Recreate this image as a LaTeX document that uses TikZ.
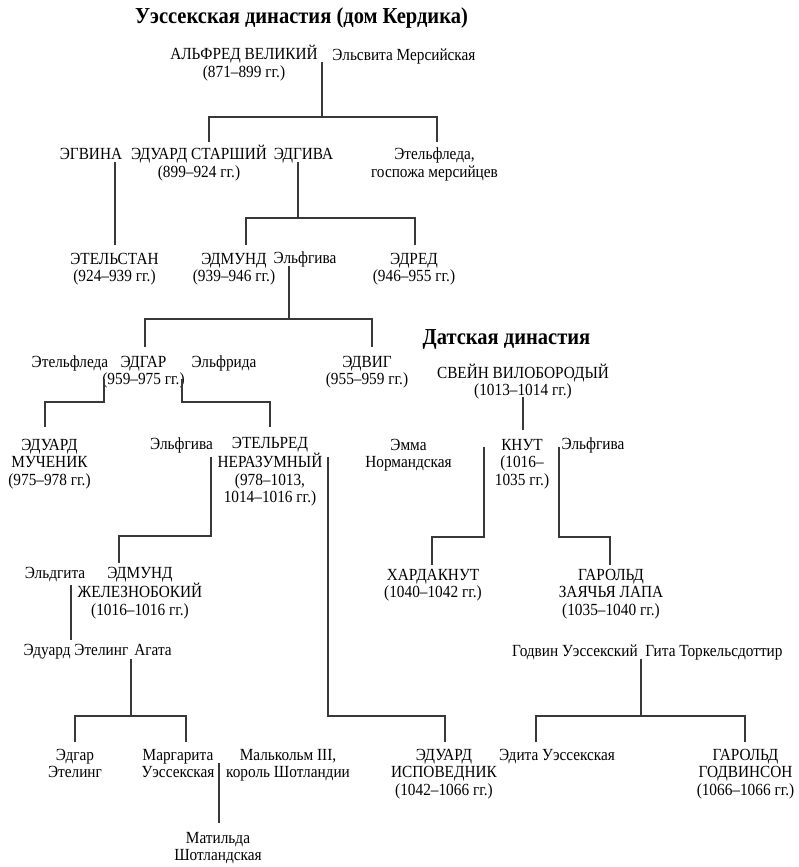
\documentclass[tikz,border=0pt]{standalone}
\usepackage{fontspec}
\setmainfont[FakeStretch=0.9]{Liberation Serif}
\newcommand\fsnorm{\fontsize{17}{17.5}\selectfont}
\newcommand\fstitle{\fontsize{22.8}{24}\selectfont\bfseries}
\tikzset{
  p/.style={align=center, inner sep=0pt, anchor=base, font=\fsnorm},
  ttl/.style={inner sep=0pt, anchor=base, font=\fstitle},
  ln/.style={draw=black!78, line width=1.1pt},
}
\begin{document}
\begin{tikzpicture}[x=1pt,y=-1pt]
\useasboundingbox[fill=white] (0,0) rectangle (799,867);
% titles
\node[ttl] (t1) at (301.5,23.5) {Уэссекская династия (дом Кердика)};
\node[ttl] (t2) at (506.5,344) {Датская династия};
% row 1 (base anchor = last line)
\node[p] (alfred) at (244,77.5) {АЛЬФРЕД ВЕЛИКИЙ\\(871–899 гг.)};
\node[p] (elsvita) at (404,60) {Эльсвита Мерсийская};
% row 2
\node[p] (egvina) at (91,159.5) {ЭГВИНА};
\node[p] (edwardE) at (199,177) {ЭДУАРД СТАРШИЙ\\(899–924 гг.)};
\node[p] (edgiva) at (303.5,159.5) {ЭДГИВА};
\node[p] (ethelfleda) at (434.5,177) {Этельфледа,\\госпожа мерсийцев};
% row 3
\node[p] (ethelstan) at (114.5,281.5) {ЭТЕЛЬСТАН\\(924–939 гг.)};
\node[p] (edmund) at (234,281.5) {ЭДМУНД\\(939–946 гг.)};
\node[p] (elfgivaA) at (305,263) {Эльфгива};
\node[p] (edred) at (414,281.5) {ЭДРЕД\\(946–955 гг.)};
% row 4
\node[p] (ethelfledaB) at (70,367) {Этельфледа};
\node[p] (edgar) at (143.5,384.5) {ЭДГАР\\(959–975 гг.)};
\node[p] (elfrida) at (224,367) {Эльфрида};
\node[p] (edwig) at (367,384.5) {ЭДВИГ\\(955–959 гг.)};
\node[p] (svein) at (523,395.5) {СВЕЙН ВИЛОБОРОДЫЙ\\(1013–1014 гг.)};
% row 5
\node[p] (edwardM) at (49.5,485) {ЭДУАРД\\МУЧЕНИК\\(975–978 гг.)};
\node[p] (elfgivaB) at (181.5,449) {Эльфгива};
\node[p] (ethelred) at (270,502.5) {ЭТЕЛЬРЕД\\НЕРАЗУМНЫЙ\\(978–1013,\\1014–1016 гг.)};
\node[p] (emma) at (408.5,467.5) {Эмма\\Нормандская};
\node[p] (knut) at (522,485) {КНУТ\\(1016–\\1035 гг.)};
\node[p] (elfgivaC) at (593,449) {Эльфгива};
% row 6
\node[p] (eldgita) at (55,578) {Эльдгита};
\node[p] (edmundI) at (140,615) {ЭДМУНД\\ЖЕЛЕЗНОБОКИЙ\\(1016–1016 гг.)};
\node[p] (hardaknut) at (433,597.5) {ХАРДАКНУТ\\(1040–1042 гг.)};
\node[p] (haroldH) at (611,615) {ГАРОЛЬД\\ЗАЯЧЬЯ ЛАПА\\(1035–1040 гг.)};
% row 7
\node[p] (edwardA) at (76,655) {Эдуард Этелинг};
\node[p] (agata) at (153,655) {Агата};
\node[p] (godwin) at (575,656) {Годвин Уэссекский};
\node[p] (gita) at (714,656) {Гита Торкельсдоттир};
% row 8
\node[p] (edgarA) at (75,777.5) {Эдгар\\Этелинг};
\node[p] (margaret) at (178,777.5) {Маргарита\\Уэссекская};
\node[p] (malcolm) at (288,777.5) {Малькольм III,\\король Шотландии};
\node[p] (edwardC) at (444,795) {ЭДУАРД\\ИСПОВЕДНИК\\(1042–1066 гг.)};
\node[p] (edith) at (557,760) {Эдита Уэссекская};
\node[p] (haroldG) at (745.5,795) {ГАРОЛЬД\\ГОДВИНСОН\\(1066–1066 гг.)};
\node[p] (matilda) at (218,860.5) {Матильда\\Шотландская};

% connectors
% Alfred + Elsvita
\coordinate (a0) at (322,62); \coordinate (a1) at (322,117);
\coordinate (a2) at (209,142); \coordinate (a3) at (437,142);
\draw[ln] (a0) -- (a1);
\draw[ln] (a2) |- (a1) -| (a3);
% Egvina -> Ethelstan
\coordinate (e0) at (115,162); \coordinate (e1) at (115,245);
\draw[ln] (e0) -- (e1);
% Edgiva
\coordinate (g0) at (298,162); \coordinate (g1) at (298,218);
\coordinate (g2) at (246,245); \coordinate (g3) at (415,245);
\draw[ln] (g0) -- (g1);
\draw[ln] (g2) |- (g1) -| (g3);
% Edmund + Elfgiva
\coordinate (h0) at (289,266); \coordinate (h1) at (289,319);
\coordinate (h2) at (145,347); \coordinate (h3) at (372,347);
\draw[ln] (h0) -- (h1);
\draw[ln] (h2) |- (h1) -| (h3);
% Edgar + Ethelfleda
\coordinate (i0) at (104,379); \coordinate (i1) at (45,427);
\draw[ln] (i0) |- (74,402) -| (i1);
% Edgar + Elfrida
\coordinate (j0) at (182,379); \coordinate (j1) at (270,427);
\draw[ln] (j0) |- (226,402) -| (j1);
% Svein -> Knut
\coordinate (s0) at (523,397); \coordinate (s1) at (523,430);
\draw[ln] (s0) -- (s1);
% Ethelred + Elfgiva
\coordinate (k0) at (211,457); \coordinate (k1) at (119,563);
\draw[ln] (k0) |- (165,536) -| (k1);
% Ethelred + Emma
\coordinate (l0) at (328,457); \coordinate (l1) at (445,742);
\draw[ln] (l0) |- (386,716) -| (l1);
% Knut + Emma
\coordinate (m0) at (484,447); \coordinate (m1) at (432,565);
\draw[ln] (m0) |- (458,537) -| (m1);
% Knut + Elfgiva
\coordinate (n0) at (559,447); \coordinate (n1) at (610,565);
\draw[ln] (n0) |- (585,537) -| (n1);
% Eldgita
\coordinate (o0) at (71,585); \coordinate (o1) at (71,640);
\draw[ln] (o0) -- (o1);
% Edward Atheling + Agata
\coordinate (q0) at (131,659); \coordinate (q1) at (131,716);
\coordinate (q2) at (75,742); \coordinate (q3) at (186,742);
\draw[ln] (q0) -- (q1);
\draw[ln] (q2) |- (q1) -| (q3);
% Godwin + Gita
\coordinate (r0) at (641,659); \coordinate (r1) at (641,716);
\coordinate (r2) at (536,742); \coordinate (r3) at (745,742);
\draw[ln] (r0) -- (r1);
\draw[ln] (r2) |- (r1) -| (r3);
% Margaret + Malcolm
\coordinate (u0) at (219,763); \coordinate (u1) at (219,823);
\draw[ln] (u0) -- (u1);
\end{tikzpicture}
\end{document}
